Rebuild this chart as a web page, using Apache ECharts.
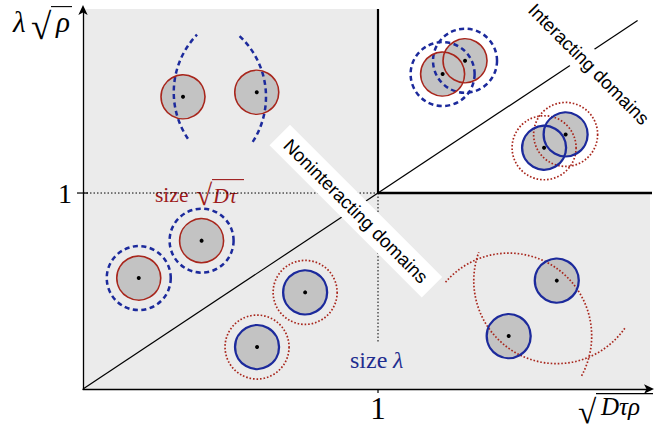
<!DOCTYPE html>
<html><head><meta charset="utf-8">
<script src="https://cdn.jsdelivr.net/npm/echarts@6/dist/echarts.min.js"></script>
<style>html,body{margin:0;padding:0;background:#fff}#c{width:670px;height:429px}</style>
</head><body><div id="c"></div>
<script>
// ---- data (diagram units: 1 = crossover value on each axis) ----
const xTickValues = [1];
const yTickValues = [1];
const xTickLabels = ['1'];
const yTickLabels = ['1'];
const xMax = 1.922;
const yMax = 1.939;
const crossover = [1, 1];
const diagonalEnd = [1.88, 1.88];
// particles drawn with size sqrt(D tau) (red outline)
const redParticles = [[0.339,1.491],[0.589,1.514],[0.189,0.566],[0.402,0.757],[1.219,1.607],[1.295,1.675]];
// particles drawn with size lambda (blue outline)
const blueParticles = [[0.753,0.493],[0.590,0.214],[1.563,1.231],[1.636,1.299],[1.443,0.270],[1.606,0.553]];
// blue dashed rings (range lambda) around red particles
const blueRings = [[0.189,0.566],[0.402,0.757],[1.219,1.607],[1.295,1.675]];
// red dotted rings (range sqrt(D tau)) around blue particles
const redRings = [[0.753,0.493],[0.590,0.214],[1.563,1.231],[1.636,1.299]];
// large partial rings: [centerX, centerY, startDeg, endDeg]
const blueArcs = [[0.589,1.514,146,224],[0.339,1.491,-47,34]];
const redArcs = [[1.443,0.270,-139.5,29.3],[1.606,0.553,35,200]];

const GRAY='#ebebeb', FILL='#c3c3c3', RED='#a8261c', BLUE='#1c2a9c';
const RED_TXT='#9e1b1b', BLUE_TXT='#1f2d8f';
const R_IN=22, R_RING=32, R_BIG=83;
const SERIF='Liberation Serif';

// ---- text measuring helpers for math-like labels ----
const mctx = document.createElement('canvas').getContext('2d');
function fontStr(size, italic){ return (italic?'italic ':'') + size + 'px "' + SERIF + '"'; }
function metrics(font, t, base){ mctx.font=font; mctx.textBaseline=base; mctx.textAlign='left'; return mctx.measureText(t); }
function midY(size, italic, baseline){
  const f=fontStr(size, italic);
  const a=metrics(f,'H','alphabetic').actualBoundingBoxAscent;
  const m=metrics(f,'H','middle').actualBoundingBoxAscent;
  return baseline-(a-m);
}
function word(t, left, baseline, size, italic, color){
  return {type:'text', x:left, y:midY(size, italic, baseline), silent:true,
    style:{text:t, fontFamily:SERIF, fontSize:size, fontStyle:italic?'italic':'normal', fill:color, align:'left', verticalAlign:'middle'}};
}
// radical sign sized so that its glyph spans yTop..yBot, left edge at xL; returns [element, rightEdge]
function radical(xL, yTop, yBot, color){
  const m0=metrics(fontStr(100,false),'√','middle');
  const gh0=m0.actualBoundingBoxAscent+m0.actualBoundingBoxDescent;
  const size=100*(yBot-yTop)/gh0;
  const m=metrics(fontStr(size,false),'√','middle');
  const el={type:'text', x:xL+m.actualBoundingBoxLeft, y:yTop+m.actualBoundingBoxAscent, silent:true,
    style:{text:'√', fontFamily:SERIF, fontSize:size, lineHeight:Math.round(size*0.7), fill:color, align:'left', verticalAlign:'middle'}};
  return [el, xL+m.actualBoundingBoxLeft+m.actualBoundingBoxRight];
}
function overline(x1, x2, y, color){
  return {type:'line', silent:true, shape:{x1:x1,y1:y,x2:x2,y2:y}, style:{stroke:color, lineWidth:1.1}};
}
function sqrtLabel(out, xL, yTop, yBot, x2, color){
  const r=radical(xL, yTop, yBot, color);
  out.push(r[0]);
  out.push(overline(r[1]-1, x2, yTop+0.6, color));
}

const chart = echarts.init(document.getElementById('c'), null, {renderer:'svg'});

function pointSeries(data, z, shapeFn){
  return {type:'custom', coordinateSystem:'cartesian2d', data:data, z:z, silent:true, clip:false,
    renderItem:function(params, api){
      const p = api.coord([api.value(0), api.value(1)]);
      return shapeFn(p, api);
    }};
}
const rad = d => d*Math.PI/180;

const series = [
  {type:'custom', coordinateSystem:'cartesian2d', data:[[0,0]], z:1, silent:true, clip:false,
   renderItem:function(params, api){
     const c=(x,y)=>api.coord([x,y]);
     const o=c(0,0), one=c(crossover[0],crossover[1]), tr=c(xMax,yMax), d=c(diagonalEnd[0],diagonalEnd[1]);
     const guideEnd=c(crossover[0],0.235);
     const ch=[];
     ch.push({type:'rect', shape:{x:one[0], y:tr[1], width:tr[0]-one[0]+1, height:one[1]-tr[1]}, style:{fill:'#fff'}});
     ch.push({type:'line', shape:{x1:o[0],y1:o[1],x2:d[0],y2:d[1]}, style:{stroke:'#000', lineWidth:1.2}});
     ch.push({type:'line', shape:{x1:o[0],y1:one[1],x2:one[0],y2:one[1]}, style:{stroke:'#000', lineWidth:1, lineDash:[1.5,2]}});
     ch.push({type:'line', shape:{x1:one[0],y1:one[1],x2:one[0],y2:guideEnd[1]}, style:{stroke:'#000', lineWidth:1, lineDash:[1.5,2]}});
     ch.push({type:'line', shape:{x1:one[0],y1:tr[1],x2:one[0],y2:one[1]+1}, style:{stroke:'#000', lineWidth:2.2}});
     ch.push({type:'line', shape:{x1:one[0],y1:one[1],x2:tr[0]+2,y2:one[1]}, style:{stroke:'#000', lineWidth:2.4}});
     xTickValues.forEach(v=>{const p=c(v,0); ch.push({type:'line', shape:{x1:p[0],y1:p[1],x2:p[0],y2:p[1]+4}, style:{stroke:'#000', lineWidth:1.2}});});
     yTickValues.forEach(v=>{const p=c(0,v); ch.push({type:'line', shape:{x1:p[0]-6,y1:p[1],x2:p[0]+5,y2:p[1]}, style:{stroke:'#000', lineWidth:1.2}});});
     return {type:'group', children:ch};
   }},
  pointSeries(redParticles.concat(blueParticles), 3, p=>({type:'circle', shape:{cx:p[0],cy:p[1],r:R_IN}, style:{fill:FILL}})),
  pointSeries(blueRings, 4, p=>({type:'circle', shape:{cx:p[0],cy:p[1],r:R_RING}, style:{fill:'none', stroke:BLUE, lineWidth:2.5, lineDash:[5,3.5]}})),
  pointSeries(redRings, 4, p=>({type:'circle', shape:{cx:p[0],cy:p[1],r:R_RING}, style:{fill:'none', stroke:RED, lineWidth:1.7, lineDash:[1.6,1.9]}})),
  pointSeries(blueArcs, 4, (p,api)=>({type:'arc', shape:{cx:p[0],cy:p[1],r:R_BIG,startAngle:rad(api.value(2)),endAngle:rad(api.value(3)),clockwise:true}, style:{fill:'none', stroke:BLUE, lineWidth:2.5, lineDash:[5,3.5]}})),
  pointSeries(redArcs, 4, (p,api)=>({type:'arc', shape:{cx:p[0],cy:p[1],r:R_BIG,startAngle:rad(api.value(2)),endAngle:rad(api.value(3)),clockwise:true}, style:{fill:'none', stroke:RED, lineWidth:1.7, lineDash:[1.6,1.9]}})),
  pointSeries(redParticles, 5, p=>({type:'circle', shape:{cx:p[0],cy:p[1],r:R_IN}, style:{fill:'none', stroke:RED, lineWidth:1.6}})),
  pointSeries(blueParticles, 5, p=>({type:'circle', shape:{cx:p[0],cy:p[1],r:R_IN}, style:{fill:'none', stroke:BLUE, lineWidth:2.3}})),
  pointSeries(redParticles.concat(blueParticles), 6, p=>({type:'circle', shape:{cx:p[0],cy:p[1],r:2}, style:{fill:'#000'}})),
  {type:'custom', coordinateSystem:'cartesian2d', data:[[0,0]], z:8, silent:true, clip:false,
   renderItem:function(params, api){
     const c=(x,y)=>api.coord([x,y]);
     const ch=[];
     const n=c(0.925,0.908);
     ch.push({type:'text', x:n[0], y:n[1], rotation:-Math.PI/4, style:{text:'Noninteracting domains', fontFamily:'Liberation Sans', fontSize:18.6, fill:'#000', align:'center', verticalAlign:'middle', backgroundColor:'#fff', padding:[5,10]}});
     const m=c(1.715,1.658);
     ch.push({type:'text', x:m[0], y:m[1], rotation:-Math.PI/4, style:{text:'Interacting domains', fontFamily:'Liberation Sans', fontSize:18.6, fill:'#000', align:'center', verticalAlign:'middle', backgroundColor:'#fff', padding:[5,6]}});
     return {type:'group', children:ch};
   }}
];

// math-style labels (pixel layout of text pieces)
const labelGroup = [];
// y axis name: λ√ρ
labelGroup.push(word('λ', 13, 30, 29, true, '#000'));
sqrtLabel(labelGroup, 31, 6, 36, 72, '#000');
labelGroup.push(word('ρ', 56, 30, 29, true, '#000'));
// x axis name: √(Dτρ)
sqrtLabel(labelGroup, 578, 393, 420, 653, '#000');
labelGroup.push(word('Dτρ', 601, 413, 25, true, '#000'));
// size √(Dτ)
labelGroup.push({type:'rect', silent:true, shape:{x:151, y:186, width:101, height:14}, style:{fill:GRAY}});
labelGroup.push(word('size', 155, 201, 21.5, false, RED_TXT));
sqrtLabel(labelGroup, 196, 179, 203, 244, RED_TXT);
labelGroup.push(word('Dτ', 213, 201, 22, true, RED_TXT));
// size λ
labelGroup.push(word('size', 350, 366, 24, false, BLUE_TXT));
labelGroup.push(word('λ', 393, 366, 24, true, BLUE_TXT));

chart.setOption({
  animation:false,
  grid:{left:83, top:9, width:567, height:380, show:true, backgroundColor:GRAY, borderWidth:0},
  xAxis:{type:'value', min:0, max:xMax, interval:1, z:10, splitLine:{show:false}, axisTick:{show:false},
    axisLine:{lineStyle:{color:'#000', width:1.3}, symbol:['none','arrow'], symbolSize:[7,10], symbolOffset:[0,4]},
    axisLabel:{formatter:v=>{const i=xTickValues.indexOf(v); return i>=0?xTickLabels[i]:'';}, fontFamily:SERIF, fontSize:31, color:'#000', margin:4}},
  yAxis:{type:'value', min:0, max:yMax, interval:1, z:10, splitLine:{show:false}, axisTick:{show:false},
    axisLine:{lineStyle:{color:'#000', width:1.3}, symbol:['none','arrow'], symbolSize:[7,10], symbolOffset:[0,4]},
    axisLabel:{formatter:v=>{const i=yTickValues.indexOf(v); return i>=0?yTickLabels[i]:'';}, fontFamily:SERIF, fontSize:28, color:'#000', margin:11}},
  graphic:[{type:'group', z:100, children:labelGroup}],
  series:series
});
</script></body></html>
